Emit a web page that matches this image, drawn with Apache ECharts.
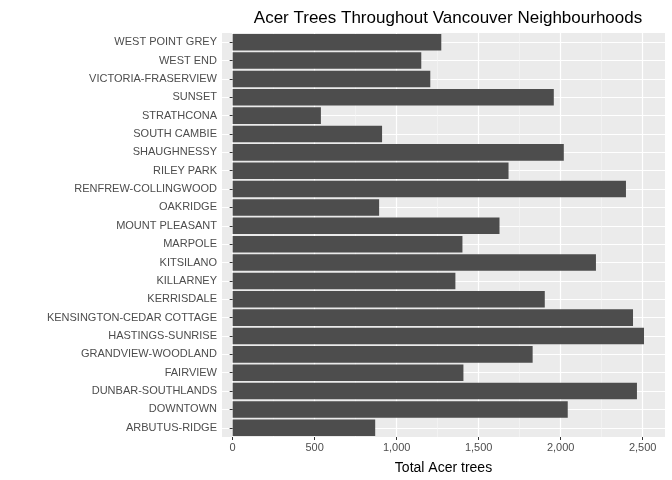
<!DOCTYPE html>
<html><head><meta charset="utf-8">
<script src="https://cdn.jsdelivr.net/npm/echarts@6/dist/echarts.min.js"></script>
<style>html,body{margin:0;padding:0;background:#fff}#chart{width:672px;height:480px}</style>
</head><body><div id="chart"></div>
<script>
// bottom to top, as drawn
var neighbourhoods = ['ARBUTUS-RIDGE','DOWNTOWN','DUNBAR-SOUTHLANDS','FAIRVIEW','GRANDVIEW-WOODLAND',
  'HASTINGS-SUNRISE','KENSINGTON-CEDAR COTTAGE','KERRISDALE','KILLARNEY','KITSILANO','MARPOLE',
  'MOUNT PLEASANT','OAKRIDGE','RENFREW-COLLINGWOOD','RILEY PARK','SHAUGHNESSY','SOUTH CAMBIE',
  'STRATHCONA','SUNSET','VICTORIA-FRASERVIEW','WEST END','WEST POINT GREY'];
var acerTrees = [869, 2043, 2465, 1407, 1829, 2508, 2441, 1903, 1358, 2215, 1401,
  1627, 893, 2398, 1682, 2019, 911, 538, 1958, 1205, 1150, 1272];
var majorTicks = [0, 500, 1000, 1500, 2000, 2500];
var minorTicks = [250, 750, 1250, 1750, 2250];

var rowLines = neighbourhoods.map(function (d, i) { return i + 0.5; });
var xMin = -65, xMax = 2636;

var chart = echarts.init(document.getElementById('chart'));
chart.setOption({
  animation: false,
  title: {
    text: 'Acer Trees Throughout Vancouver Neighbourhoods',
    left: 443, top: 5, textAlign: 'center',
    textStyle: { fontFamily: 'Liberation Sans', fontSize: 17, fontWeight: 'normal', color: '#000' }
  },
  grid: { left: 222, right: 7, top: 33, bottom: 43, backgroundColor: '#EBEBEB', show: true, borderWidth: 0 },
  xAxis: [{
    type: 'value', min: xMin, max: xMax,
    name: 'Total Acer trees', nameLocation: 'middle', nameGap: 24,
    nameTextStyle: { fontFamily: 'Liberation Sans', fontSize: 14, color: '#000' },
    axisLine: { show: false },
    axisTick: { show: true, length: 3, lineStyle: { color: '#333' }, customValues: majorTicks },
    axisLabel: { customValues: majorTicks, fontFamily: 'Liberation Sans', fontSize: 11, color: '#4D4D4D', margin: 5 },
    splitLine: { show: true, lineStyle: { color: '#fff', width: 1.2 } }
  }, {
    type: 'value', min: xMin, max: xMax, position: 'bottom',
    axisLine: { show: false }, axisLabel: { show: false },
    axisTick: { show: false, customValues: minorTicks },
    splitLine: { show: true, lineStyle: { color: '#F7F7F7', width: 0.6 } }
  }],
  yAxis: [{
    type: 'category', data: neighbourhoods,
    axisLine: { show: false },
    axisTick: { show: true, alignWithLabel: true, length: 3, lineStyle: { color: '#333' } },
    axisLabel: { fontFamily: 'Liberation Sans', fontSize: 11, color: '#4D4D4D', margin: 5 },
    splitLine: { show: false }
  }, {
    type: 'value', min: 0, max: neighbourhoods.length, position: 'left',
    axisLine: { show: false }, axisLabel: { show: false },
    axisTick: { show: false, customValues: rowLines },
    splitLine: { show: true, lineStyle: { color: '#fff', width: 1.2 } }
  }],
  series: [{
    type: 'bar', data: acerTrees, xAxisIndex: 0, yAxisIndex: 0,
    barCategoryGap: '10%', itemStyle: { color: '#4D4D4D' }
  }]
});
</script></body></html>
